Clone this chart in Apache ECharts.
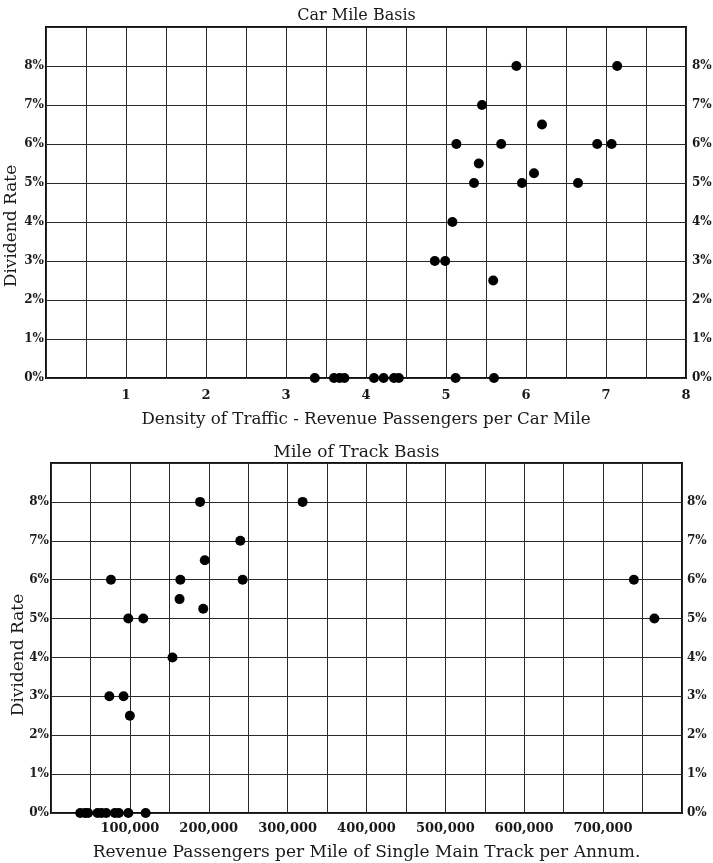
<!DOCTYPE html>
<html>
<head>
<meta charset="utf-8">
<script src="https://cdn.jsdelivr.net/npm/echarts@6/dist/echarts.min.js"></script>
<style>
  html, body { margin: 0; padding: 0; background: #fff; }
  #chart { width: 713px; height: 863px; }
</style>
</head>
<body>
<div id="chart"></div>
<script>
// Car mile basis: passengers per car mile vs. dividend rate (%)
const carMileDensity = [5.88, 7.14, 5.45, 6.2, 5.13, 5.69, 6.89, 7.07, 5.41, 6.10, 5.35, 5.95, 6.65, 5.08, 4.86, 4.99, 5.59,
  3.36, 3.60, 3.67, 3.73, 4.10, 4.22, 4.35, 4.41, 5.12, 5.6];
const carMileDividend = [8, 8, 7, 6.5, 6, 6, 6, 6, 5.5, 5.25, 5, 5, 5, 4, 3, 3, 2.5,
  0, 0, 0, 0, 0, 0, 0, 0, 0, 0];

// Mile of track basis: passengers per mile of single main track vs. dividend rate (%)
const trackPassengers = [189000, 319000, 240000, 195000, 76000, 164000, 243000, 739000, 163000, 193000, 98000, 117000, 765000, 154000, 74000, 92000, 100000,
  37000, 43000, 47000, 59000, 64000, 70000, 81000, 86000, 98000, 120000];
const trackDividend = [8, 8, 7, 6.5, 6, 6, 6, 6, 5.5, 5.25, 5, 5, 5, 4, 3, 3, 2.5,
  0, 0, 0, 0, 0, 0, 0, 0, 0, 0];

const rateTicks = ['0%', '1%', '2%', '3%', '4%', '5%', '6%', '7%', '8%'];
const densityTicks = [1, 2, 3, 4, 5, 6, 7, 8];
const trackTicks = [100000, 200000, 300000, 400000, 500000, 600000, 700000];

const SERIF = '"DejaVu Serif", "Liberation Serif", serif';
const INK = '#1a1a1a';
const GRID_LINE = '#2a2a2a';

const zip = (xs, ys) => xs.map((x, i) => [x, ys[i]]);

function rateAxis(gridIndex, position, margin) {
  return {
    type: 'value', gridIndex, position, min: 0, max: 9, interval: 1,
    axisLine: { show: false }, axisTick: { show: false },
    splitLine: { show: position === 'left', lineStyle: { color: GRID_LINE, width: 1 } },
    axisLabel: {
      margin,
      fontFamily: SERIF, fontWeight: 'bold', fontSize: 12, color: INK,
      formatter: v => (v < rateTicks.length ? rateTicks[v] : '')
    }
  };
}

// vertical "Dividend Rate" caption beside each panel
function rateCaption(x, y) {
  return {
    type: 'text', x, y, rotation: Math.PI / 2,
    style: {
      text: 'Dividend Rate', textAlign: 'center', textVerticalAlign: 'middle',
      font: '17px ' + SERIF, fill: INK
    }
  };
}

const option = {
  backgroundColor: '#fff',
  animation: false,
  title: [
    { text: 'Car Mile Basis', left: 'center', top: 3,
      textStyle: { fontFamily: SERIF, fontSize: 16, fontWeight: 'normal', color: INK } },
    { text: 'Mile of Track Basis', left: 'center', top: 439,
      textStyle: { fontFamily: SERIF, fontSize: 17, fontWeight: 'normal', color: INK } }
  ],
  graphic: [rateCaption(12, 226), rateCaption(19, 655)],
  grid: [
    { left: 46, right: 27, top: 27, height: 351, outerBoundsMode: 'none', containLabel: false,
      show: true, borderColor: '#111', borderWidth: 2, backgroundColor: 'transparent' },
    { left: 51, right: 31, top: 463, height: 350, outerBoundsMode: 'none', containLabel: false,
      show: true, borderColor: '#111', borderWidth: 2, backgroundColor: 'transparent' }
  ],
  xAxis: [
    {
      type: 'value', gridIndex: 0, min: 0, max: 8, interval: 0.5,
      name: 'Density of Traffic - Revenue Passengers per Car Mile',
      nameLocation: 'middle', nameGap: 33,
      nameTextStyle: { fontFamily: SERIF, fontSize: 16.7, color: INK },
      axisLine: { show: false }, axisTick: { show: false },
      splitLine: { show: true, lineStyle: { color: GRID_LINE, width: 1 } },
      axisLabel: {
        margin: 11, fontFamily: SERIF, fontWeight: 'bold', fontSize: 13, color: INK,
        formatter: v => (densityTicks.includes(v) ? String(v) : '')
      }
    },
    {
      type: 'value', gridIndex: 1, min: 0, max: 800000, interval: 50000,
      name: 'Revenue Passengers per Mile of Single Main Track per Annum.',
      nameLocation: 'middle', nameGap: 31,
      nameTextStyle: { fontFamily: SERIF, fontSize: 17, color: INK },
      axisLine: { show: false }, axisTick: { show: false },
      splitLine: { show: true, lineStyle: { color: GRID_LINE, width: 1 } },
      axisLabel: {
        margin: 9, fontFamily: SERIF, fontWeight: 'bold', fontSize: 13, color: INK,
        formatter: v => (trackTicks.includes(v) ? v.toLocaleString('en-US') : '')
      }
    }
  ],
  yAxis: [
    rateAxis(0, 'left', 2),
    rateAxis(0, 'right', 6),
    rateAxis(1, 'left', 2),
    rateAxis(1, 'right', 5)
  ],
  series: [
    {
      type: 'scatter', xAxisIndex: 0, yAxisIndex: 0, clip: false,
      symbol: 'circle', symbolSize: 10, itemStyle: { color: '#000', opacity: 1 },
      data: zip(carMileDensity, carMileDividend)
    },
    {
      type: 'scatter', xAxisIndex: 1, yAxisIndex: 2, clip: false,
      symbol: 'circle', symbolSize: 10, itemStyle: { color: '#000', opacity: 1 },
      data: zip(trackPassengers, trackDividend)
    }
  ]
};

const chart = echarts.init(document.getElementById('chart'), null, { renderer: 'canvas' });
chart.setOption(option);
</script>
</body>
</html>
